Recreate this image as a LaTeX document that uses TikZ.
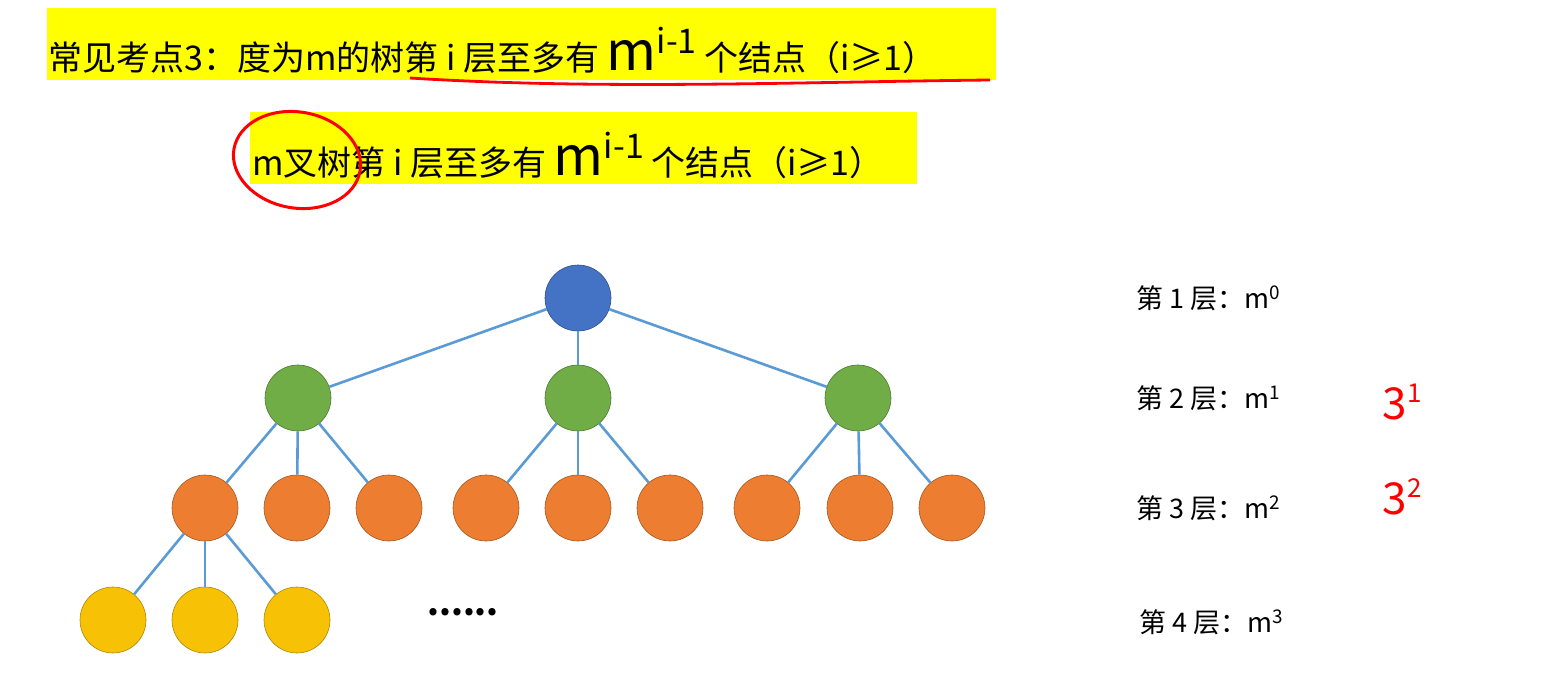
\documentclass[tikz,border=0pt]{standalone}
\usepackage{fontspec}
\setmainfont{Noto Sans CJK SC}
\begin{document}
\begin{tikzpicture}[x=1pt,y=-1pt,
  nd/.style={circle,minimum size=66pt,inner sep=0pt,draw=#1!70!black,line width=0.6pt,fill=#1},
  ed/.style={draw=edgec,line width=2.6pt},
  lvl/.style={anchor=west,font=\fontsize{27}{30}\selectfont},
  hand/.style={text=red,font=\fontsize{44}{44}\selectfont\itshape},
  ttl/.style={anchor=west,inner sep=0pt,font=\fontsize{34}{36}\selectfont}]
\definecolor{cblue}{HTML}{4472C4}\definecolor{cgreen}{HTML}{70AD47}
\definecolor{corange}{HTML}{ED7D31}\definecolor{cgold}{HTML}{F7C205}
\definecolor{edgec}{HTML}{5B9BD5}\definecolor{ylw}{HTML}{FFFF00}
\useasboundingbox[fill=white] (0,0) rectangle (1550,693);
\fill[ylw] (47,8) rectangle (996,80);
\fill[ylw] (250,112) rectangle (917,184);
\node[ttl] (t1) at (48,50) {常见考点3：度为m的树第 i 层至多有 {\fontsize{54}{54}\selectfont m}\raisebox{0.5em}{i-1} 个结点（i≥1）};
\node[ttl] (t2) at (252,155) {m叉树第 i 层至多有 {\fontsize{54}{54}\selectfont m}\raisebox{0.5em}{i-1} 个结点（i≥1）};
\draw[red,line width=2.8pt] (410,78) .. controls (600,90) and (800,82) .. (990,80);
\draw[red,line width=3pt,rotate around={-10:(297,160)}] (297,160) ellipse (64 and 48);
% tree
\node[nd=cblue] (r) at (578,298) {};
\node[nd=cgreen] (a) at (298,398) {};
\node[nd=cgreen] (b) at (578,398) {};
\node[nd=cgreen] (c) at (858,398) {};
\foreach \n/\x in {a1/205,a2/297,a3/389,b1/486,b2/578,b3/670,c1/767,c2/860,c3/952}
  \node[nd=corange] (\n) at (\x,508) {};
\foreach \n/\x in {d1/113,d2/205,d3/297}
  \node[nd=cgold] (\n) at (\x,620) {};
\node[font=\fontsize{34}{34}\selectfont\bfseries] (dots) at (463,612) {......};
\foreach \p/\q in {r/a,r/b,r/c,a/a1,a/a2,a/a3,b/b1,b/b2,b/b3,c/c1,c/c2,c/c3,a1/d1,a1/d2,a1/d3}
  \draw[ed] (\p) -- (\q);
\node[lvl] (l1) at (1133,298) {第 1 层：m\textsuperscript{0}};
\node[lvl] (l2) at (1133,398) {第 2 层：m\textsuperscript{1}};
\node[lvl] (l3) at (1133,508) {第 3 层：m\textsuperscript{2}};
\node[lvl] (l4) at (1136,622) {第 4 层：m\textsuperscript{3}};
\node[hand] (h1) at (1402,402) {3\raisebox{0.4em}{\fontsize{26}{26}\selectfont 1}};
\node[hand] (h2) at (1402,497) {3\raisebox{0.4em}{\fontsize{26}{26}\selectfont 2}};
\end{tikzpicture}
\end{document}
